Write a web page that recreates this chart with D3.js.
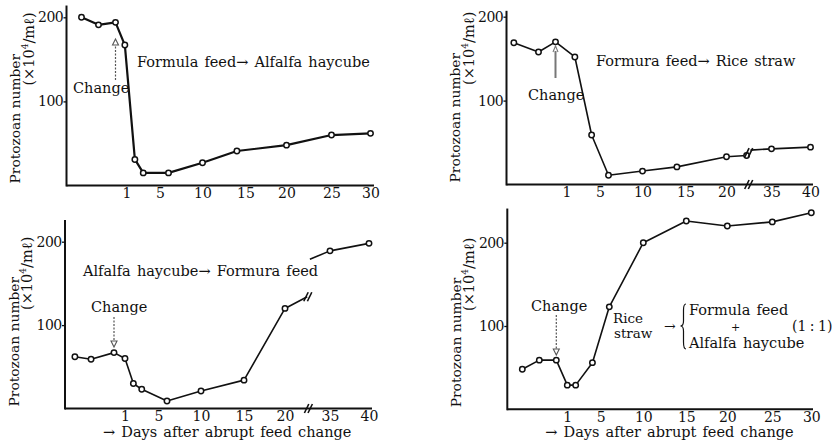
<!DOCTYPE html>
<html><head><meta charset="utf-8">
<script src="https://cdn.jsdelivr.net/npm/d3@7"></script>
<style>
body{margin:0;background:#fff}
svg text{font-family:"DejaVu Serif","Liberation Serif",serif;fill:#111}
</style></head><body>
<svg id="c" width="838" height="442"></svg>
<script>
// ---------------- DATA ----------------
// x values are days relative to the feed change (0 = change day); y = protozoan number (x10^4 / ml)
// Panel 1: Formula feed -> Alfalfa haycube
const p1Days = [-2, -1, 0, 0.85, 2, 3, 6, 10, 14, 20, 25, 30];
const p1Vals = [200, 191, 194, 167, 31, 15, 15, 27, 41, 48, 60, 62];
const p1Ticks = [1, 5, 10, 15, 20, 25, 30];
const p1TickLabels = ["1", "5", "10", "15", "20", "25", "30"];

// Panel 2: Formura feed -> Rice straw (axis broken between 20 and 35)
const p2DaysA = [-2.45, -1, 0, 2, 4, 6, 10, 14, 20, 26.7];
const p2ValsA = [169, 158, 170, 152, 59, 11, 16, 21, 33, 34.5];
const p2DaysB = [28, 35, 40];
const p2ValsB = [41, 42.5, 44.5];
const p2Ticks = [1, 5, 10, 15, 20, 35, 40];
const p2TickLabels = ["1", "5", "10", "15", "20", "35", "40"];

// Panel 3: Alfalfa haycube -> Formura feed (axis broken between 20 and 35)
const p3DaysA = [-2.3, -1.35, 0, 1, 2, 3, 6, 10, 15, 20, 27.4];
const p3ValsA = [62, 59, 67, 60, 30, 23, 9, 21, 34, 120, 134];
const p3DaysB = [28.3, 35, 40];
const p3ValsB = [179, 189, 198];
const p3Ticks = [1, 5, 10, 15, 20, 35, 40];
const p3TickLabels = ["1", "5", "10", "15", "20", "35", "40"];

// Panel 4: Rice straw -> Formula feed + Alfalfa haycube (1:1)
const p4Days = [-2, -1, 0, 1, 2, 4, 6, 10, 15, 20, 25, 30];
const p4Vals = [48, 59, 59, 29, 29, 56, 123, 200, 226, 220, 225, 236];
const p4Ticks = [1, 5, 10, 15, 20, 25, 30];
const p4TickLabels = ["1", "5", "10", "15", "20", "25", "30"];

const yTickValues = [100, 200];

// ---------------- LAYOUT ----------------
// hand-drawn, non-uniform day axis: piecewise-linear breakpoints (px from axis origin)
const SLOT_PX = [15, 49, 60, 93.5, 136, 179, 220, 265, 304];
const slotsStd = [-2, 0, 1, 5, 10, 15, 20, 25, 30];
const slotsBrk = [-2, 0, 1, 5, 10, 15, 20, 35, 40];

const svg = d3.select("#c");

function panel(cfg) {
  const g = svg.append("g");
  const x = d3.scaleLinear().domain(cfg.slots).range(SLOT_PX.map(p => cfg.ox + p));
  const y = d3.scaleLinear().domain([0, 200]).range([cfg.y0, cfg.y200]);

  // axes lines
  g.append("line").attr("x1", cfg.ox).attr("x2", cfg.xEnd)
    .attr("y1", y(0)).attr("y2", y(0)).attr("stroke", "#111").attr("stroke-width", 2);
  g.append("line").attr("x1", cfg.ox).attr("x2", cfg.ox)
    .attr("y1", y(0) + 1).attr("y2", y(cfg.yMax)).attr("stroke", "#111").attr("stroke-width", 2);

  // x tick labels
  const ax = g.append("g").attr("transform", `translate(0,${y(0)})`)
    .call(d3.axisBottom(x).tickValues(cfg.ticks).tickSize(0).tickPadding(2.5)
      .tickFormat((d, i) => cfg.tickLabels[i]));
  ax.select(".domain").remove();
  ax.attr("font-family", null).attr("font-size", null);
  ax.selectAll("text").attr("font-size", 14).attr("fill", "#111");

  // y ticks
  const ay = g.append("g").attr("transform", `translate(${cfg.ox},0)`)
    .call(d3.axisLeft(y).tickValues(yTickValues).tickSize(3).tickPadding(0.5));
  ay.select(".domain").remove();
  ay.attr("font-family", null).attr("font-size", null);
  ay.selectAll("line").attr("stroke", "#111").attr("stroke-width", 1.3);
  ay.selectAll("text").attr("font-size", 14).attr("fill", "#111").attr("letter-spacing", -0.6);

  // y label
  g.append("text").attr("transform", `translate(${cfg.ox - 46.5},${y(0) - 2}) rotate(-90)`)
    .attr("font-size", 13.8).attr("text-anchor", "start")
    .text("Protozoan number");
  const l2 = g.append("text").attr("transform", `translate(${cfg.ox - 33},${y(200) - 5}) rotate(-90)`)
    .attr("font-size", 14.5).attr("text-anchor", "end");
  l2.append("tspan").text("(×10");
  l2.append("tspan").attr("font-size", 9).attr("dy", -6).text("4");
  l2.append("tspan").attr("dy", 6).text("/mℓ)");

  // series
  const line = d3.line().x(d => x(d[0])).y(d => y(d[1]));
  cfg.series.forEach(s => {
    const pts = s.days.map((d, i) => [d, s.vals[i]]);
    g.append("path").attr("d", line(pts)).attr("fill", "none")
      .attr("stroke", "#111").attr("stroke-width", cfg.lw).attr("stroke-linejoin", "round");
    g.selectAll(null).data(pts.filter((p, i) => !(s.noMark || []).includes(i))).enter()
      .append("circle").attr("cx", d => x(d[0])).attr("cy", d => y(d[1])).attr("r", 2.7)
      .attr("fill", "#fff").attr("stroke", "#111").attr("stroke-width", 1.5);
  });

  // break marks
  (cfg.breaks || []).forEach(b => {
    const bx = x(b[0]), by = y(b[1]);
    [-1.8, 1.8].forEach(dx => {
      g.append("line").attr("x1", bx + dx - 2.2).attr("y1", by + 4.5)
        .attr("x2", bx + dx + 2.2).attr("y2", by - 4.5)
        .attr("stroke", "#111").attr("stroke-width", 1.6);
    });
  });

  if (cfg.xlabel) {
    g.append("text").attr("x", cfg.ox + 38).attr("y", y(0) + 28)
      .attr("font-size", 14.5).attr("word-spacing", 1.5)
      .text("→ Days after abrupt feed change");
  }
  return { g, x, y };
}

function arrow(g, x, yFrom, yTo, color, dashed) {
  g.append("line").attr("x1", x).attr("x2", x).attr("y1", yFrom).attr("y2", yTo + (yTo < yFrom ? 5 : -5))
    .attr("stroke", color).attr("stroke-width", 1.2).attr("stroke-dasharray", dashed ? "2,1.5" : null);
  const dir = yTo < yFrom ? 1 : -1;
  g.append("path").attr("d", `M${x - 3},${yTo + dir * 6} L${x},${yTo} L${x + 3},${yTo + dir * 6} Z`)
    .attr("fill", "#fff").attr("stroke", color).attr("stroke-width", 1.1);
}

function txt(g, x, y, s, size, extra) {
  const t = g.append("text").attr("x", x).attr("y", y).attr("font-size", size || 14.5)
    .attr("word-spacing", 1.5).text(s);
  if (extra) extra(t);
  return t;
}

// Panel 1
const P1 = panel({ ox: 66.5, y0: 185.5, y200: 17.3, yMax: 214, xEnd: 374, slots: slotsStd,
  ticks: p1Ticks, tickLabels: p1TickLabels, lw: 2.2,
  series: [{ days: p1Days, vals: p1Vals }] });
txt(P1.g, 137, 67, "Formula feed→ Alfalfa haycube");
txt(P1.g, 73, 93, "Change");
arrow(P1.g, P1.x(0), 80, 39, "#555", true);

// Panel 2
const P2 = panel({ ox: 506.5, y0: 184.5, y200: 16.7, yMax: 207, xEnd: 813, slots: slotsBrk,
  ticks: p2Ticks, tickLabels: p2TickLabels, lw: 1.6,
  series: [{ days: p2DaysA, vals: p2ValsA }, { days: p2DaysB, vals: p2ValsB, noMark: [0] }],
  breaks: [[27.4, 0], [27.4, 38]] });
txt(P2.g, 596, 66, "Formura feed→ Rice straw");
txt(P2.g, 528, 100, "Change");
P2.g.append("line").attr("x1", P2.x(0)).attr("x2", P2.x(0)).attr("y1", 78).attr("y2", 51)
  .attr("stroke", "#777").attr("stroke-width", 2);
P2.g.append("path").attr("d", `M${P2.x(0) - 2.5},${52} L${P2.x(0)},${46} L${P2.x(0) + 2.5},${52}`)
  .attr("fill", "none").attr("stroke", "#777").attr("stroke-width", 1.1);

// Panel 3
const P3 = panel({ ox: 65, y0: 408.5, y200: 241.7, yMax: 226, xEnd: 372, slots: slotsBrk,
  ticks: p3Ticks, tickLabels: p3TickLabels, lw: 1.6,
  series: [{ days: p3DaysA, vals: p3ValsA, noMark: [10] }, { days: p3DaysB, vals: p3ValsB, noMark: [0] }],
  breaks: [[27.8, 0], [27.6, 134]], xlabel: true });
txt(P3.g, 83, 276, "Alfalfa haycube→ Formura feed");
txt(P3.g, 91, 312, "Change");
arrow(P3.g, P3.x(0), 317, 347, "#555", true);

// Panel 4
const P4 = panel({ ox: 507.3, y0: 409.3, y200: 242.7, yMax: 241, xEnd: 813, slots: slotsStd,
  ticks: p4Ticks, tickLabels: p4TickLabels, lw: 1.6,
  series: [{ days: p4Days, vals: p4Vals }], xlabel: true });
txt(P4.g, 531, 311, "Change");
arrow(P4.g, P4.x(0), 315, 355, "#555", true);
txt(P4.g, 613, 322.5, "Rice", 13.5);
txt(P4.g, 614, 338, "straw", 13.5);
txt(P4.g, 664, 331, "→", 14);
P4.g.append("path").attr("d", "M686,304 Q683.5,304 683.5,310 L683.5,321 Q683.5,326 680.5,326 Q683.5,326 683.5,331 L683.5,342 Q683.5,349 686,349")
  .attr("fill", "none").attr("stroke", "#111").attr("stroke-width", 1.2);
txt(P4.g, 689, 315, "Formula feed");
txt(P4.g, 731, 331, "+", 11, t => t.attr("fill", "#666"));
txt(P4.g, 792, 331, "(1 : 1)", 14, t => t.attr("word-spacing", -1));
txt(P4.g, 689, 348, "Alfalfa haycube");
</script>
</body></html>
